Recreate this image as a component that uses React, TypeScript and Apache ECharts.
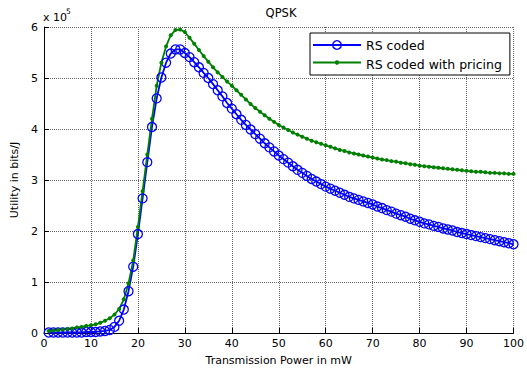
import React, { useEffect, useRef } from "react";
import * as echarts from "echarts";

const power: number[] = Array.from({ length: 100 }, (_, i) => i + 1);

// Utility values in units of 1e5 bits/J
const rsCoded: number[] = [
  0.01, 0.01, 0.01, 0.01, 0.01, 0.01, 0.01, 0.01, 0.02, 0.02,
  0.02, 0.03, 0.04, 0.06, 0.12, 0.24, 0.46, 0.82, 1.3, 1.94,
  2.64, 3.35, 4.04, 4.6, 5.01, 5.3, 5.48, 5.56, 5.56, 5.49,
  5.41, 5.31, 5.21, 5.1, 5.0, 4.88, 4.76, 4.64, 4.51, 4.4,
  4.29, 4.18, 4.08, 3.99, 3.9, 3.81, 3.72, 3.64, 3.56, 3.48,
  3.41, 3.34, 3.27, 3.2, 3.14, 3.08, 3.02, 2.97, 2.92, 2.87,
  2.83, 2.79, 2.75, 2.71, 2.67, 2.64, 2.61, 2.58, 2.55, 2.52,
  2.48, 2.45, 2.41, 2.38, 2.34, 2.31, 2.28, 2.24, 2.21, 2.18,
  2.15, 2.13, 2.1, 2.08, 2.05, 2.03, 2.01, 1.98, 1.96, 1.94,
  1.92, 1.9, 1.88, 1.86, 1.84, 1.82, 1.8, 1.78, 1.76, 1.74,
];

const rsCodedPricing: number[] = [
  0.04, 0.05, 0.06, 0.07, 0.08, 0.09, 0.11, 0.12, 0.14, 0.15,
  0.17, 0.2, 0.24, 0.29, 0.36, 0.47, 0.66, 0.97, 1.42, 2.08,
  2.78, 3.5, 4.2, 4.85, 5.3, 5.62, 5.84, 5.94, 5.95, 5.9,
  5.79, 5.67, 5.55, 5.43, 5.32, 5.21, 5.11, 5.02, 4.93, 4.85,
  4.76, 4.67, 4.58, 4.49, 4.41, 4.34, 4.27, 4.2, 4.14, 4.08,
  4.03, 3.98, 3.93, 3.89, 3.85, 3.81, 3.77, 3.74, 3.71, 3.68,
  3.65, 3.62, 3.59, 3.57, 3.54, 3.52, 3.5, 3.48, 3.46, 3.44,
  3.42, 3.4, 3.39, 3.37, 3.36, 3.34, 3.33, 3.31, 3.3, 3.28,
  3.27, 3.26, 3.25, 3.24, 3.23, 3.22, 3.21, 3.2, 3.19, 3.18,
  3.17, 3.16, 3.16, 3.15, 3.14, 3.14, 3.13, 3.13, 3.12, 3.12,
];

const seriesNames = ["RS coded", "RS coded with pricing"];
const BLUE = "#0000ff";
const GREEN = "#008000";
const FONT = "'DejaVu Sans', 'Liberation Sans', Arial, sans-serif";

export default function App() {
  const ref = useRef<HTMLDivElement>(null);

  useEffect(() => {
    if (!ref.current) return;
    const chart = echarts.init(ref.current, undefined, { renderer: "svg" });
    const gridLine = { show: true, lineStyle: { color: "#666", type: [1, 1] as any, width: 1 } };

    // legend geometry
    const legLeft = 310;
    const legTop = 33;
    const padTop = 6;
    const padLeft = 3;
    const itemW = 48;
    const itemH = 12;
    const gap = 5.5;
    const row1 = legTop + padTop + itemH / 2;
    const row2 = row1 + itemH + gap;
    const iconX0 = legLeft + padLeft;
    const iconXC = iconX0 + itemW / 2;

    chart.setOption({
      animation: false,
      backgroundColor: "#fff",
      textStyle: { fontFamily: FONT },
      grid: { left: 44, right: 9, top: 27, bottom: 32, containLabel: false },
      graphic: [
        {
          type: "text",
          x: 281,
          y: 13,
          style: { text: "QPSK", font: `11.5px ${FONT}`, fill: "#000", textAlign: "center", textVerticalAlign: "middle" },
        },
        {
          type: "text",
          x: 43,
          y: 17,
          style: { text: "x 10", font: `11px ${FONT}`, fill: "#000", textAlign: "left", textVerticalAlign: "middle" },
        },
        {
          type: "text",
          x: 66,
          y: 11,
          style: { text: "5", font: `7.5px ${FONT}`, fill: "#000", textAlign: "left", textVerticalAlign: "middle" },
        },
        // legend icons (line + marker) drawn over transparent legend icons
        {
          type: "line",
          z: 100,
          shape: { x1: iconX0, y1: row1, x2: iconX0 + itemW, y2: row1 },
          style: { stroke: BLUE, lineWidth: 1.8 },
        },
        {
          type: "circle",
          z: 101,
          shape: { cx: iconXC, cy: row1, r: 4.3 },
          style: { stroke: BLUE, lineWidth: 1.4, fill: "none" },
        },
        {
          type: "line",
          z: 100,
          shape: { x1: iconX0, y1: row2, x2: iconX0 + itemW, y2: row2 },
          style: { stroke: GREEN, lineWidth: 1.8 },
        },
        {
          type: "circle",
          z: 101,
          shape: { cx: iconXC, cy: row2, r: 2.2 },
          style: { fill: GREEN },
        },
      ],
      legend: {
        orient: "vertical",
        left: legLeft,
        top: legTop,
        backgroundColor: "#fff",
        borderColor: "#000",
        borderWidth: 1,
        borderRadius: 0,
        padding: [padTop, 8, 4.5, padLeft],
        itemGap: gap,
        itemWidth: itemW,
        itemHeight: itemH,
        selectedMode: false,
        textStyle: { fontSize: 12.5, color: "#000", fontFamily: FONT },
        data: seriesNames.map((n) => ({ name: n, icon: "rect", itemStyle: { color: "rgba(0,0,0,0)", borderWidth: 0 } })),
      },
      xAxis: {
        type: "value",
        min: 0,
        max: 100,
        interval: 10,
        name: "Transmission Power in mW",
        nameLocation: "middle",
        nameGap: 22,
        nameTextStyle: { fontSize: 11, color: "#000", fontFamily: FONT },
        axisLine: { show: true, onZero: false, lineStyle: { color: "#000", width: 1 } },
        axisTick: { show: true, inside: true, length: 5, lineStyle: { color: "#000" } },
        axisLabel: { color: "#000", fontSize: 11, margin: 5, fontFamily: FONT },
        splitLine: gridLine,
      },
      yAxis: {
        type: "value",
        min: 0,
        max: 6,
        interval: 1,
        name: "Utility in bits/J",
        nameLocation: "middle",
        nameGap: 17,
        nameTextStyle: { fontSize: 11, color: "#000", fontFamily: FONT },
        axisLine: { show: true, onZero: false, lineStyle: { color: "#000", width: 1 } },
        axisTick: { show: true, inside: true, length: 5, lineStyle: { color: "#000" } },
        axisLabel: { color: "#000", fontSize: 11, margin: 6, fontFamily: FONT },
        splitLine: gridLine,
      },
      series: [
        {
          name: seriesNames[0],
          type: "line",
          data: power.map((p, i) => [p, rsCoded[i]]),
          symbol: "circle",
          symbolSize: 9,
          showAllSymbol: true,
          lineStyle: { color: BLUE, width: 1.8 },
          itemStyle: { color: "rgba(0,0,0,0)", borderColor: BLUE, borderWidth: 1.3 },
          emphasis: { disabled: true },
        },
        {
          name: seriesNames[1],
          type: "line",
          data: power.map((p, i) => [p, rsCodedPricing[i]]),
          symbol: "circle",
          symbolSize: 4,
          showAllSymbol: true,
          lineStyle: { color: GREEN, width: 1.8 },
          itemStyle: { color: GREEN },
          emphasis: { disabled: true },
        },
      ],
    });
    return () => chart.dispose();
  }, []);

  return (
    <div
      ref={ref}
      style={{ position: "absolute", left: 0, top: 0, width: 527, height: 371 }}
    />
  );
}
